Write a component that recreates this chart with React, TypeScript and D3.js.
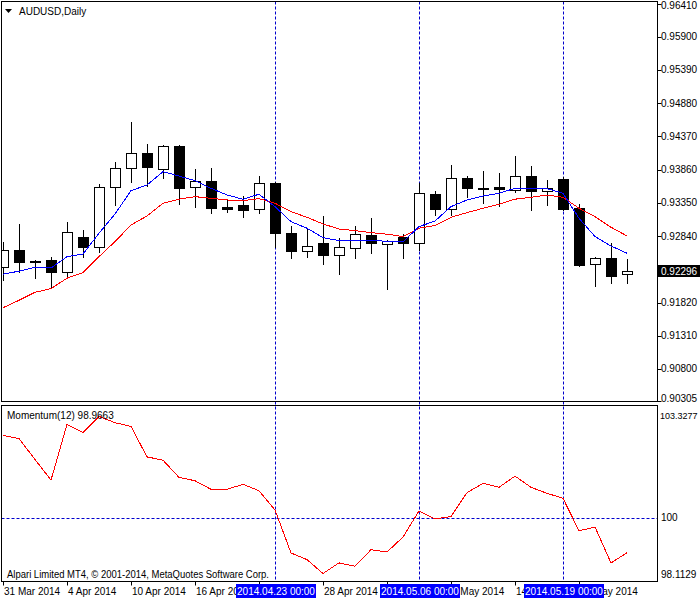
import React from 'react';
import * as d3 from 'd3';

// AUDUSD daily bars, 31 Mar – 23 May 2014
const dates = [
  '2014-03-31', '2014-04-01', '2014-04-02', '2014-04-03', '2014-04-04',
  '2014-04-07', '2014-04-08', '2014-04-09', '2014-04-10', '2014-04-11',
  '2014-04-14', '2014-04-15', '2014-04-16', '2014-04-17', '2014-04-18',
  '2014-04-21', '2014-04-22', '2014-04-23', '2014-04-24', '2014-04-25',
  '2014-04-28', '2014-04-29', '2014-04-30', '2014-05-01', '2014-05-02',
  '2014-05-05', '2014-05-06', '2014-05-07', '2014-05-08', '2014-05-09',
  '2014-05-12', '2014-05-13', '2014-05-14', '2014-05-15', '2014-05-16',
  '2014-05-19', '2014-05-20', '2014-05-21', '2014-05-22', '2014-05-23',
];

const opens = [
  0.92370, 0.92627, 0.92457, 0.92473, 0.92295, 0.92832, 0.92678, 0.93588, 0.93881, 0.94111,
  0.93866, 0.94222, 0.93588, 0.93685, 0.93292, 0.93318, 0.93252, 0.93650, 0.92884, 0.92616,
  0.92730, 0.92554, 0.92662, 0.92858, 0.92715, 0.92832, 0.92730, 0.93486, 0.93252, 0.93727,
  0.93582, 0.93588, 0.93548, 0.93762, 0.93537, 0.93716, 0.93267, 0.92407, 0.92508, 0.92262,
];
const highs = [
  0.92755, 0.93021, 0.92473, 0.92524, 0.93056, 0.92934, 0.93639, 0.93983, 0.94587, 0.94253,
  0.94242, 0.94238, 0.93866, 0.93881, 0.93406, 0.93455, 0.93762, 0.93670, 0.92995, 0.92969,
  0.93148, 0.92807, 0.92995, 0.93113, 0.92781, 0.92873, 0.93659, 0.93532, 0.93932, 0.93762,
  0.93839, 0.93813, 0.94069, 0.93916, 0.93701, 0.93747, 0.93333, 0.92524, 0.92730, 0.92488,
];
const lows = [
  0.92167, 0.92285, 0.92202, 0.92039, 0.92218, 0.92524, 0.92601, 0.93318, 0.93675, 0.93608,
  0.93736, 0.93333, 0.93292, 0.93190, 0.93215, 0.93128, 0.93199, 0.92673, 0.92508, 0.92524,
  0.92411, 0.92259, 0.92508, 0.92585, 0.92024, 0.92508, 0.92627, 0.93164, 0.93164, 0.93435,
  0.93344, 0.93302, 0.93522, 0.93241, 0.93318, 0.93241, 0.92388, 0.92079, 0.92125, 0.92125,
];
const closes = [
  0.92627, 0.92447, 0.92450, 0.92295, 0.92899, 0.92678, 0.93588, 0.93881, 0.94111, 0.93906,
  0.94222, 0.93582, 0.93685, 0.93276, 0.93261, 0.93241, 0.93650, 0.92893, 0.92616, 0.92688,
  0.92554, 0.92668, 0.92873, 0.92730, 0.92765, 0.92730, 0.93497, 0.93252, 0.93727, 0.93582,
  0.93585, 0.93562, 0.93762, 0.93537, 0.93573, 0.93256, 0.92396, 0.92508, 0.92233, 0.92296,
];

// moving averages drawn on the price panel
const maBlue = [
  0.92255, 0.92301, 0.92360, 0.92350, 0.92524, 0.92565, 0.92884, 0.93179, 0.93537, 0.93624,
  0.93829, 0.93762, 0.93690, 0.93573, 0.93471, 0.93405, 0.93482, 0.93292, 0.93062, 0.92960,
  0.92816, 0.92770, 0.92776, 0.92770, 0.92761, 0.92750, 0.92985, 0.93071, 0.93292, 0.93394,
  0.93455, 0.93497, 0.93573, 0.93573, 0.93567, 0.93497, 0.93113, 0.92832, 0.92688, 0.92576,
];
const maRed = [
  0.91740, 0.91854, 0.91977, 0.92033, 0.92193, 0.92279, 0.92524, 0.92755, 0.93010, 0.93148,
  0.93344, 0.93406, 0.93445, 0.93420, 0.93394, 0.93383, 0.93414, 0.93344, 0.93215, 0.93128,
  0.93025, 0.92949, 0.92923, 0.92893, 0.92869, 0.92832, 0.92960, 0.93002, 0.93128, 0.93199,
  0.93267, 0.93329, 0.93406, 0.93435, 0.93471, 0.93435, 0.93267, 0.93138, 0.92975, 0.92842,
];

// Momentum(12)
const momentum = [
  102.444, 102.347, 101.728, 101.118, 102.768, 102.524, 103.004, 102.818, 102.709, 101.805,
  101.708, 101.198, 101.098, 100.844, 100.844, 100.992, 100.803, 100.234, 98.959, 98.761,
  98.349, 98.664, 98.564, 99.056, 98.988, 99.430, 100.205, 99.969, 100.037, 100.744,
  101.021, 100.903, 101.236, 100.903, 100.726, 100.579, 99.616, 99.725, 98.664, 98.966,
];

const priceTicks = [
  0.96410, 0.95900, 0.95390, 0.94880, 0.94370, 0.93860, 0.93350,
  0.92840, 0.92330, 0.91820, 0.91310, 0.90800, 0.90305,
];
const momentumTicks = [103.3277, 100, 98.1129];
const markerDates = ['2014-04-23', '2014-05-06', '2014-05-19'];
const lastPrice = 0.92296;
const momentumLast = 98.9663;
const symbolTitle = 'AUDUSD,Daily';
const momentumTitle = 'Momentum(12)';
const copyright = 'Alpari Limited MT4, \u00a9 2001-2014, MetaQuotes Software Corp.';

const W = 700;
const H = 600;
const left = 1.5;
const right = 657.5;
const mainTop = 1.5;
const mainBottom = 401.5;
const momTop = 405.5;
const momBottom = 581.5;
const barStep = 16;
const font = '"Liberation Sans", Arial, sans-serif';
const dashBlue = '#0000cc';

const px = (v: number) => Math.round(v) + 0.5;

export default function App() {
  const parse = d3.timeParse('%Y-%m-%d');
  const days = dates.map((d) => parse(d) as Date);
  const fmtTick = d3.timeFormat('%-d %b %Y');
  const fmtMarker = d3.timeFormat('%Y.%m.%d %H:%M');

  const x = d3
    .scaleLinear()
    .domain([0, dates.length - 1])
    .range([3, 3 + barStep * (dates.length - 1)]);
  const yP = d3.scaleLinear().domain([0.90305, 0.9641]).range([401.2, 3.5]);
  const yM = d3.scaleLinear().domain([98.1129, 103.3277]).range([momBottom, momTop]);

  const priceLine = d3
    .line<number>()
    .x((_, i) => x(i))
    .y((d) => yP(d));
  const momLine = d3
    .line<number>()
    .x((_, i) => x(i))
    .y((d) => yM(d));

  const tickIdx = dates.map((_, i) => i).filter((i) => i % 4 === 0);
  const markerIdx = markerDates.map((m) => dates.indexOf(m));

  return (
    <svg
      width={W}
      height={H}
      style={{ position: 'absolute', left: 0, top: 0, background: '#fff' }}
      fontFamily={font}
      fontSize={10}
    >
      <defs>
        <clipPath id="clip-main">
          <rect x={left + 0.5} y={mainTop + 0.5} width={right - left - 1} height={mainBottom - mainTop - 1} />
        </clipPath>
        <clipPath id="clip-mom">
          <rect x={left + 0.5} y={momTop + 0.5} width={right - left - 1} height={momBottom - momTop - 1} />
        </clipPath>
      </defs>
      <rect x={0} y={0} width={W} height={H} fill="#fff" />

      {/* marker lines across both panels */}
      {markerIdx.map((i) => (
        <line
          key={'m' + i}
          x1={px(x(i))}
          x2={px(x(i))}
          y1={mainTop}
          y2={momBottom}
          stroke={dashBlue}
          strokeDasharray="3,2"
        />
      ))}

      {/* price panel */}
      <g clipPath="url(#clip-main)">
        {opens.map((o, i) => {
          const c = closes[i];
          const cx = px(x(i));
          const yTop = px(yP(Math.max(o, c)));
          const yBot = px(yP(Math.min(o, c)));
          const bull = c >= o;
          return (
            <g key={i}>
              <line
                x1={cx}
                x2={cx}
                y1={Math.round(yP(highs[i]))}
                y2={Math.round(yP(lows[i])) + 1}
                stroke="#000"
              />
              <rect
                x={cx - 5}
                y={yTop}
                width={10}
                height={Math.max(yBot - yTop, 1)}
                fill={bull ? '#fff' : '#000'}
                stroke="#000"
              />
            </g>
          );
        })}
        <path d={priceLine(maRed) || ''} fill="none" stroke="#ff0000" strokeWidth={1} shapeRendering="crispEdges" />
        <path d={priceLine(maBlue) || ''} fill="none" stroke="#0000ff" strokeWidth={1} shapeRendering="crispEdges" />
      </g>

      {/* momentum panel */}
      <line x1={left} x2={right} y1={px(yM(100))} y2={px(yM(100))} stroke={dashBlue} strokeDasharray="3,2" />
      <g clipPath="url(#clip-mom)">
        <path d={momLine(momentum) || ''} fill="none" stroke="#ff0000" strokeWidth={1} shapeRendering="crispEdges" />
      </g>

      {/* frames */}
      <rect x={left} y={mainTop} width={right - left} height={mainBottom - mainTop} fill="none" stroke="#000" />
      <rect x={left} y={momTop} width={right - left} height={momBottom - momTop} fill="none" stroke="#000" />

      {/* titles */}
      <polygon points="5,9 12,9 8.5,13" fill="#000" />
      <text x={19} y={15} fill="#000">{symbolTitle}</text>
      <text x={7} y={419} fill="#000">{`${momentumTitle} ${momentumLast.toFixed(4)}`}</text>
      <text x={7} y={578} fill="#000" textLength={262} lengthAdjust="spacingAndGlyphs">{copyright}</text>

      {/* price axis */}
      {priceTicks.map((v) => {
        const yy = yP(v);
        const ty = Math.min(Math.max(yy, mainTop + 4), mainBottom - 3);
        return (
          <g key={'p' + v}>
            <line x1={right} x2={right + 4} y1={px(yy)} y2={px(yy)} stroke="#000" />
            <text x={661} y={ty} dy="0.35em" fill="#000">{v.toFixed(5)}</text>
          </g>
        );
      })}
      <rect x={658} y={Math.round(yP(lastPrice)) - 6} width={42} height={12} fill="#000" />
      <text x={661} y={yP(lastPrice)} dy="0.35em" fill="#fff">{lastPrice.toFixed(5)}</text>

      {/* momentum axis */}
      {momentumTicks.map((v) => {
        const ty = Math.min(Math.max(yM(v), momTop + 10), momBottom - 7);
        const label = v === 100 ? '100' : v.toFixed(4);
        const long = label.length > 7;
        return (
          <text
            key={'mt' + v}
            x={long ? 660 : 661}
            y={ty}
            dy="0.35em"
            fill="#000"
            fontSize={long ? 9 : 10}
          >
            {label}
          </text>
        );
      })}

      {/* time axis */}
      {tickIdx.map((i) => (
        <g key={'t' + i}>
          <line x1={px(x(i))} x2={px(x(i))} y1={momBottom} y2={momBottom + 4} stroke="#000" />
          <text x={x(i) + 1} y={595} fill="#000">{fmtTick(days[i])}</text>
        </g>
      ))}
      {markerIdx.map((i) => (
        <g key={'mb' + i}>
          <rect x={Math.round(x(i)) - 39} y={584} width={80} height={14} fill="#0000ff" />
          <text x={x(i) + 1} y={595} textAnchor="middle" fill="#fff">{fmtMarker(days[i])}</text>
        </g>
      ))}
    </svg>
  );
}
